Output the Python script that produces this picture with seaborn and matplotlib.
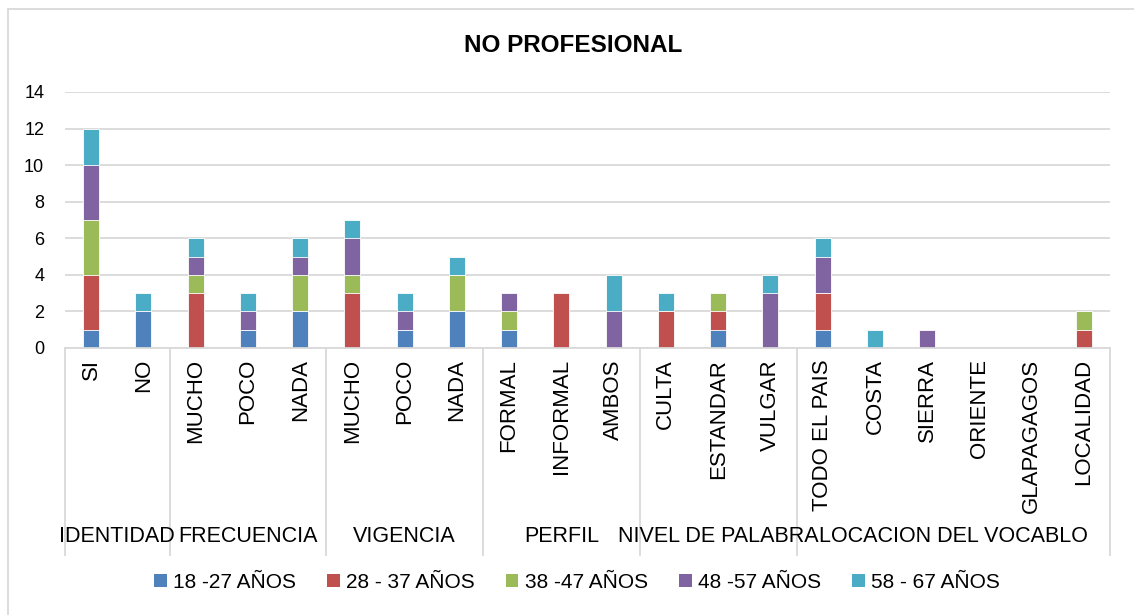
import matplotlib
matplotlib.use("Agg")
import matplotlib.pyplot as plt
import matplotlib.patches as mpatches
import numpy as np
import pandas as pd
import seaborn as sns

# Survey answers of the non-professional group, by question and age band
groups = ["IDENTIDAD", "FRECUENCIA", "VIGENCIA", "PERFIL",
          "NIVEL DE PALABRA", "LOCACION DEL VOCABLO"]
group_items = [
    ["SI", "NO"],
    ["MUCHO", "POCO", "NADA"],
    ["MUCHO", "POCO", "NADA"],
    ["FORMAL", "INFORMAL", "AMBOS"],
    ["CULTA", "ESTANDAR", "VULGAR"],
    ["TODO EL PAIS", "COSTA", "SIERRA", "ORIENTE", "GLAPAGAGOS", "LOCALIDAD"],
]
age_bands = ["18 -27 AÑOS", "28 - 37 AÑOS", "38 -47 AÑOS", "48 -57 AÑOS", "58 - 67 AÑOS"]

age_18_27 = [1, 2, 0, 1, 2, 0, 1, 2, 1, 0, 0, 0, 1, 0, 1, 0, 0, 0, 0, 0]
age_28_37 = [3, 0, 3, 0, 0, 3, 0, 0, 0, 3, 0, 2, 1, 0, 2, 0, 0, 0, 0, 1]
age_38_47 = [3, 0, 1, 0, 2, 1, 0, 2, 1, 0, 0, 0, 1, 0, 0, 0, 0, 0, 0, 1]
age_48_57 = [3, 0, 1, 1, 1, 2, 1, 0, 1, 0, 2, 0, 0, 3, 2, 0, 1, 0, 0, 0]
age_58_67 = [2, 1, 1, 1, 1, 1, 1, 1, 0, 0, 2, 1, 0, 1, 1, 1, 0, 0, 0, 0]

colors = ["#4F81BD", "#C0504D", "#9BBB59", "#8064A2", "#4BACC6"]

series = [age_18_27, age_28_37, age_38_47, age_48_57, age_58_67]
labels = [item for items in group_items for item in items]
n = len(labels)

df = pd.DataFrame({band: vals for band, vals in zip(age_bands, series)})
df["pos"] = np.arange(n)
cum = df[age_bands].cumsum(axis=1)

plt.rcParams["font.family"] = ["Liberation Sans", "DejaVu Sans"]

fig = plt.figure(figsize=(11.34, 6.15), dpi=100)
W, H = 1134, 615
ax_left, ax_right, ax_top, ax_bottom = 65, 1110, 92, 348
ax = fig.add_axes([ax_left / W, (H - ax_bottom) / H,
                   (ax_right - ax_left) / W, (ax_bottom - ax_top) / H])

# Stacked bars: draw cumulative totals from the top band down
for band, col in reversed(list(zip(age_bands, colors))):
    sns.barplot(x=df["pos"], y=cum[band], color=col, saturation=1,
                width=0.31, errorbar=None, edgecolor="white",
                linewidth=0.6, ax=ax)

ax.set_xlim(-0.5, n - 0.5)
ax.set_ylim(0, 14)
ax.set_yticks(np.arange(0, 15, 2))
ax.set_xlabel("")
ax.set_ylabel("")
ax.yaxis.grid(True, color="#d9d9d9", linewidth=1.3)
ax.set_axisbelow(True)
for side in ("left", "top", "right"):
    ax.spines[side].set_visible(False)
ax.spines["bottom"].set_color("#d9d9d9")
ax.spines["bottom"].set_linewidth(1.3)
ax.tick_params(axis="y", length=0, pad=15, labelsize=13, labelcolor="black")
ax.tick_params(axis="x", length=0, pad=8)
ax.set_xticks(np.arange(n))
ax.set_xticklabels(labels, rotation=90, va="top", ha="center", fontsize=16)

# Group brackets under the categories
trans = matplotlib.transforms.blended_transform_factory(ax.transData, ax.transAxes)
sep_bottom = -(555 - ax_bottom) / (ax_bottom - ax_top)
label_y = -(537 - ax_bottom) / (ax_bottom - ax_top)
start = 0
bounds = [-0.5]
for items in group_items:
    start += len(items)
    bounds.append(start - 0.5)
for b in bounds:
    ax.plot([b, b], [0, sep_bottom], color="#d9d9d9", lw=1.3,
            transform=trans, clip_on=False)
for g, name in enumerate(groups):
    cx = (bounds[g] + bounds[g + 1]) / 2
    ax.text(cx, label_y, name, transform=trans, ha="center", va="center",
            fontsize=15.5, color="black")

fig.text(573 / W, (H - 45) / H, "NO PROFESIONAL", ha="center", va="center",
         fontsize=17.5, fontweight="bold", color="black")

handles = [mpatches.Patch(facecolor=c, edgecolor="none", label=b)
           for b, c in zip(age_bands, colors)]
fig.legend(handles=handles, loc="center", ncol=5,
           bbox_to_anchor=(577 / W, (H - 582) / H), frameon=False,
           fontsize=15, handlelength=0.6, handleheight=0.6,
           handletextpad=0.3, columnspacing=1.5)

# Chart-area border
fig.add_artist(plt.Line2D([8 / W, 8 / W], [0, (H - 9) / H], color="#d9d9d9",
                          lw=1.3, transform=fig.transFigure))
fig.add_artist(plt.Line2D([8 / W, 1], [(H - 9) / H, (H - 9) / H],
                          color="#d9d9d9", lw=1.3, transform=fig.transFigure))

fig.savefig("out.png", dpi=100, facecolor="white")
